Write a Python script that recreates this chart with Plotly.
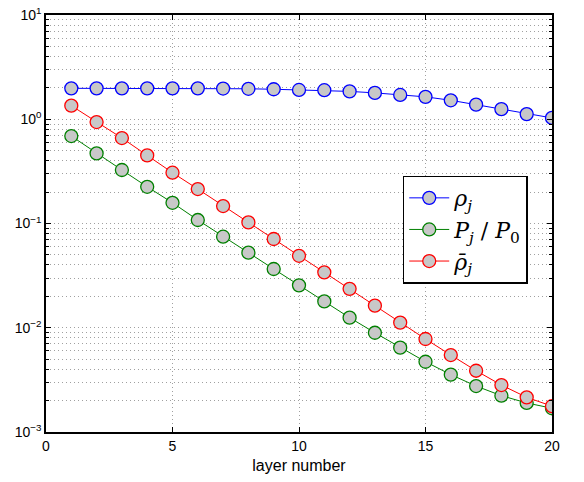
import plotly.graph_objects as go

layers = list(range(1, 21))
rho = [1.98, 1.98, 1.98, 1.98, 1.98, 1.98, 1.97, 1.96, 1.94, 1.91, 1.90, 1.85, 1.79, 1.71, 1.64, 1.52, 1.38, 1.25, 1.12, 1.03]
p_ratio = [0.69, 0.47, 0.326, 0.225, 0.158, 0.108, 0.0747, 0.0525, 0.0366, 0.0255, 0.0179, 0.0125, 0.00895, 0.00644, 0.00472, 0.00355, 0.00276, 0.00223, 0.0019, 0.00169]
rho_bar = [1.35, 0.94, 0.66, 0.45, 0.307, 0.214, 0.147, 0.1025, 0.071, 0.049, 0.034, 0.0236, 0.0163, 0.0112, 0.0078, 0.00547, 0.00387, 0.00282, 0.00215, 0.00177]

names = ["<i>ρ<sub>j</sub></i>", "<i>P<sub>j</sub></i> / <i>P</i><sub>0</sub>", "<i>ρ̄<sub>j</sub></i>"]
colors = ["#0000ff", "#008000", "#ff0000"]
series = [rho, p_ratio, rho_bar]

fig = go.Figure()
for s, n, c in zip(series, names, colors):
    fig.add_trace(go.Scatter(
        x=layers, y=s, name=n, mode="lines+markers",
        line=dict(color=c, width=1),
        marker=dict(symbol="circle", size=13, color="#c8c8c8", line=dict(color=c, width=1.3)),
    ))

ytv = [1e-3, 1e-2, 1e-1, 1e0, 1e1]
ytt = ["10<sup>−3</sup>", "10<sup>−2</sup>", "10<sup>−1</sup>", "10<sup>0</sup>", "10<sup>1</sup>"]

axis_common = dict(
    showline=True, linecolor="black", linewidth=1.5, mirror="ticks",
    ticks="inside", ticklen=5, tickcolor="black",
    showgrid=True, gridcolor="#a0a0a0", griddash="1px,3px", gridwidth=1,
    zeroline=False, automargin=False, ticklabeloverflow="allow",
    tickfont=dict(family="Liberation Sans, Arial", size=14, color="black"),
)

fig.update_layout(
    width=584, height=482,
    margin=dict(l=46, r=32, t=15, b=50),
    paper_bgcolor="white", plot_bgcolor="white",
    xaxis=dict(range=[0, 20], tickvals=[0, 5, 10, 15, 20],
               title=dict(text="layer number", font=dict(family="Liberation Sans, Arial", size=16, color="black"), standoff=7),
               **axis_common),
    yaxis=dict(type="log", range=[-3, 1], tickvals=ytv, ticktext=ytt,
               minor=dict(ticks="inside", ticklen=3, tickcolor="black", showgrid=True,
                          gridcolor="#a0a0a0", griddash="1px,3px", dtick="D1"),
               **axis_common),
    legend=dict(x=0.705, y=0.615, xanchor="left", yanchor="top",
                bgcolor="white", bordercolor="black", borderwidth=1.5,
                font=dict(family="DejaVu Serif", size=22, color="black"),
                tracegroupgap=0, itemwidth=40),
    showlegend=True,
)

fig.write_html("out.html", config={"displayModeBar": False},
               post_script="document.body.style.margin='0';")
